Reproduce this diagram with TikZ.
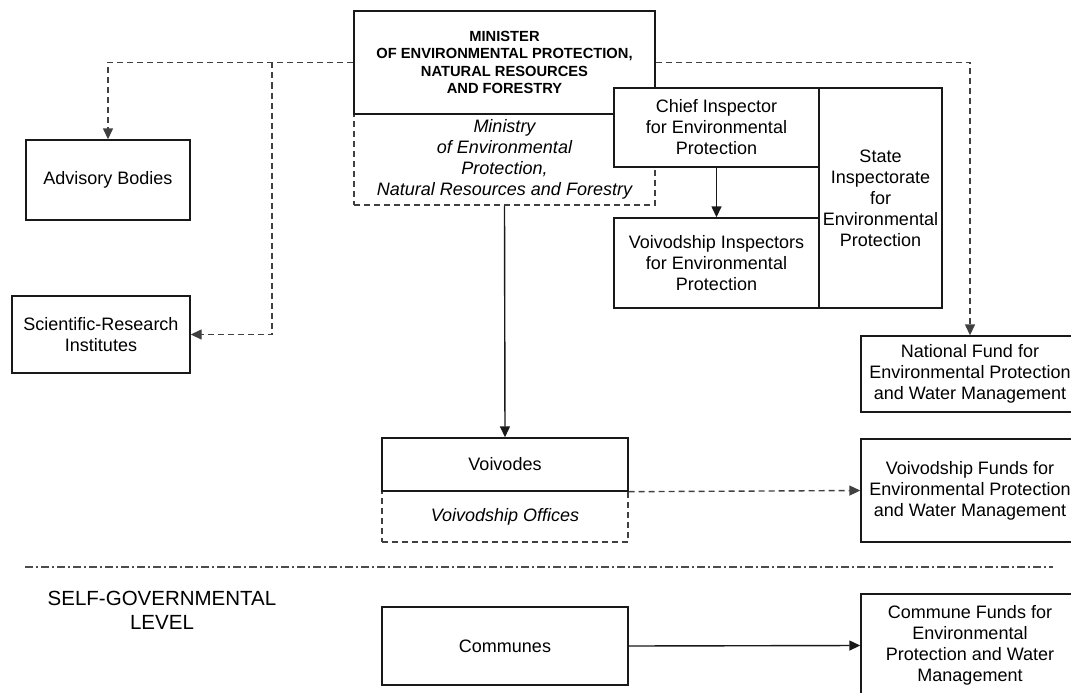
\documentclass[tikz,border=0pt]{standalone}
\usepackage{fontspec}
\setmainfont{Liberation Sans}
\usetikzlibrary{arrows.meta}
\begin{document}
\begin{tikzpicture}[x=1pt,y=-1pt,
  box/.style={draw=black!90, line width=1.4pt, fill=white, align=center, inner sep=0pt,
    font=\fontsize{18}{21}\selectfont},
  dbox/.style={box, draw=black!75, dash pattern=on 6pt off 4pt, fill=none},
  arr/.style={draw=black!90, line width=1.4pt, -{Triangle[length=11pt,width=10pt]}},
  darr/.style={draw=black!75, line width=1.4pt, dash pattern=on 6pt off 4pt, -{Triangle[length=11pt,width=10pt]}},
  dashdotline/.style={draw=black!70, line width=1.3pt, dash pattern=on 8pt off 3pt on 2pt off 3pt},
  lbl/.style={align=center, inner sep=0pt, font=\fontsize{20.5}{24}\selectfont}]
\useasboundingbox (0,0) rectangle (1071,693);
\clip (0,0) rectangle (1071,693);
% upper centre
\node[dbox, minimum width=301pt, minimum height=91pt] (ministry) at (504.5,159.5)
  {\itshape Ministry\\\itshape of Environmental\\\itshape Protection,\\\itshape Natural Resources and Forestry};
\node[box, minimum width=301pt, minimum height=103pt,
  font=\fontsize{14.7}{17.3}\selectfont\bfseries] (min) at (504.5,62.5)
  {MINISTER\\OF ENVIRONMENTAL PROTECTION,\\NATURAL RESOURCES\\AND FORESTRY};
\node[box, minimum width=205pt, minimum height=79pt] (chief) at (716.5,127.5)
  {Chief Inspector\\for Environmental\\Protection};
\node[box, minimum width=205pt, minimum height=90pt] (vinsp) at (716.5,263)
  {Voivodship Inspectors\\for Environmental\\Protection};
\node[box, minimum width=123pt, minimum height=220pt] (state) at (880.5,198)
  {State\\Inspectorate\\for\\Environmental\\Protection};
% left
\node[box, minimum width=164pt, minimum height=80pt] (adv) at (108,180) {Advisory Bodies};
\node[box, minimum width=178pt, minimum height=77pt] (sci) at (101,334.5)
  {Scientific-Research\\Institutes};
% right
\node[box, minimum width=218pt, minimum height=76pt] (nat) at (970,374)
  {National Fund for\\Environmental Protection\\and Water Management};
\node[box, minimum width=218pt, minimum height=103pt] (vfunds) at (970,490.5)
  {Voivodship Funds for\\Environmental Protection\\and Water Management};
\node[box, minimum width=218pt, minimum height=103pt] (cfunds) at (970,645.5)
  {Commune Funds for\\Environmental\\Protection and Water\\Management};
% middle
\node[dbox, minimum width=246pt, minimum height=51pt] (voff) at (505,516.5)
  {\itshape Voivodship Offices};
\node[box, minimum width=246pt, minimum height=53pt] (voiv) at (505,464.5) {Voivodes};
\node[box, minimum width=246pt, minimum height=78pt] (comm) at (505,646) {Communes};
\node[lbl] (self) at (162,610) {SELF-GOVERNMENTAL\\LEVEL};
% dash-dot separator
\coordinate (sepL) at (25,567);
\coordinate (sepR) at (1053,567);
\draw[dashdotline] (sepL) -- (sepR);
% connectors
\coordinate (br) at (272,62.5);
\draw[darr] (min.west) -| (adv.north);
\draw[darr] (br) |- (sci.east);
\draw[darr] (min.east) -| (nat.north);
\draw[arr] (chief.south) -- (vinsp.north);
\draw[arr] (ministry.south) -- (voiv.north);
\draw[darr] (voiv.south east) -- (vfunds.west);
\draw[arr] (comm.east) -- (cfunds.west);
\end{tikzpicture}
\end{document}
